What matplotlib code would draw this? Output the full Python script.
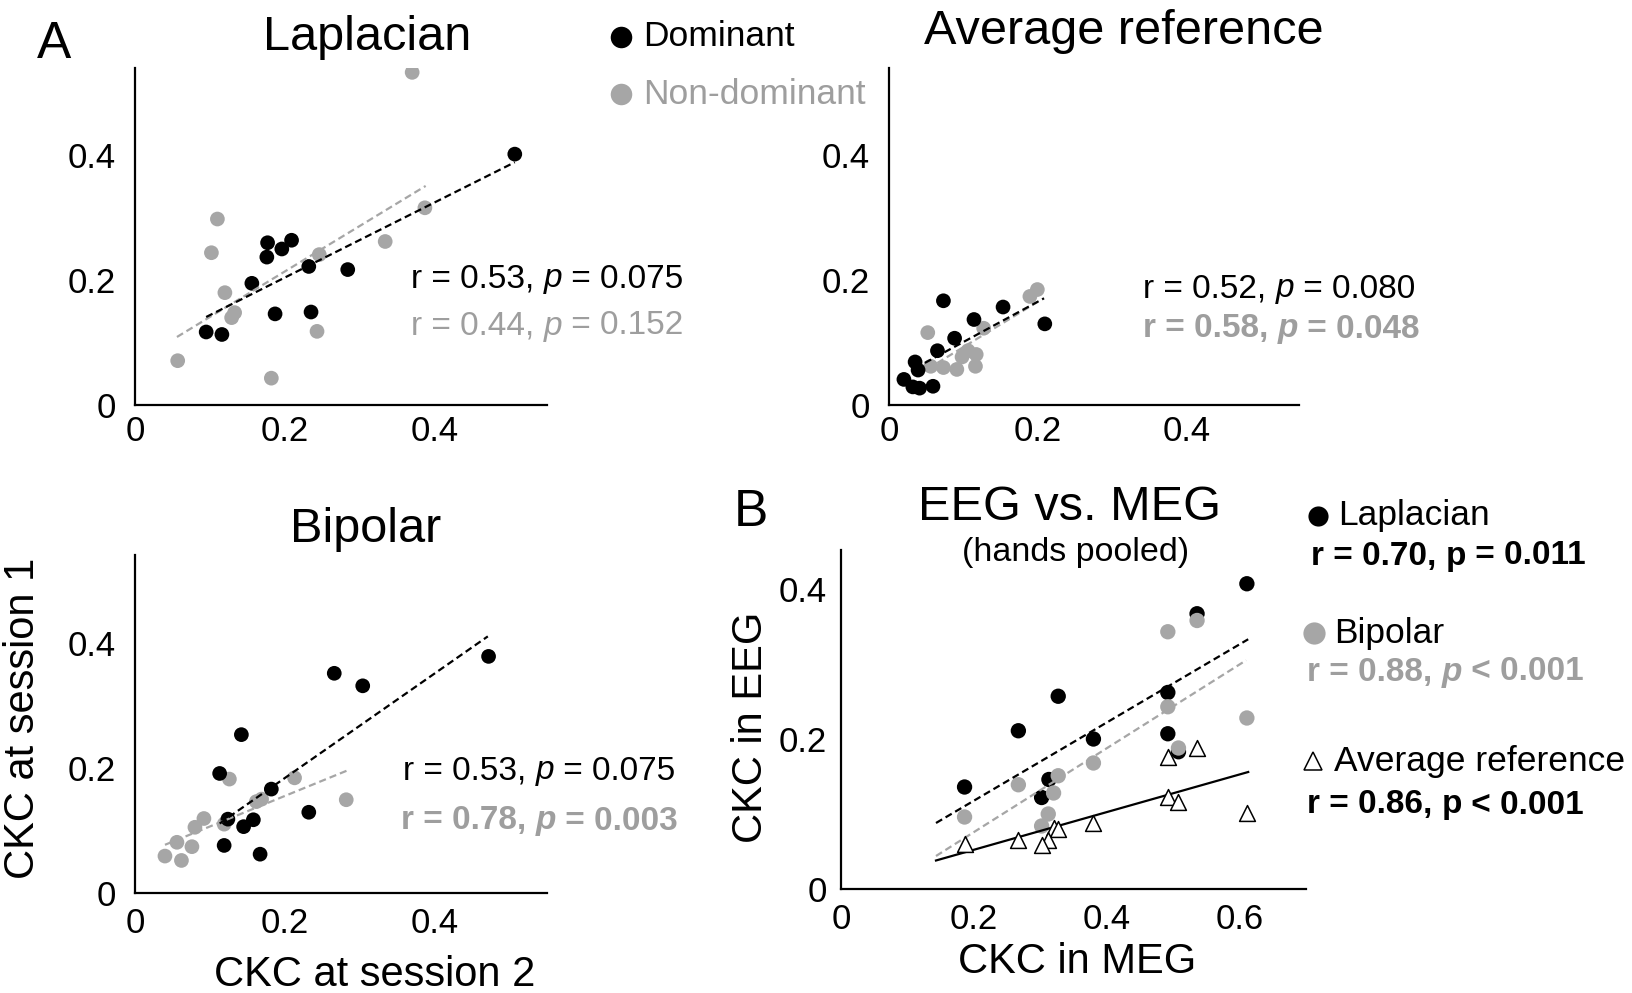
import matplotlib
matplotlib.use("Agg")
import matplotlib.pyplot as plt
from matplotlib.lines import Line2D
from matplotlib.font_manager import FontProperties

plt.rcParams['font.family'] = ['Liberation Sans', 'DejaVu Sans']

# ---------------- data ----------------
lap_dom_x = [0.507, 0.177, 0.209, 0.196, 0.176, 0.232, 0.284, 0.156, 0.187, 0.235, 0.095, 0.116]
lap_dom_y = [0.402, 0.260, 0.264, 0.250, 0.237, 0.222, 0.217, 0.195, 0.146, 0.149, 0.117, 0.113]
lap_non_x = [0.110, 0.102, 0.120, 0.133, 0.129, 0.246, 0.334, 0.387, 0.243, 0.057, 0.182, 0.370]
lap_non_y = [0.298, 0.244, 0.180, 0.148, 0.140, 0.241, 0.262, 0.316, 0.118, 0.071, 0.043, 0.533]

avg_dom_x = [0.073, 0.153, 0.114, 0.209, 0.088, 0.065, 0.035, 0.039, 0.020, 0.032, 0.041, 0.059]
avg_dom_y = [0.167, 0.157, 0.137, 0.130, 0.107, 0.087, 0.069, 0.056, 0.041, 0.029, 0.027, 0.030]
avg_non_x = [0.199, 0.189, 0.127, 0.052, 0.106, 0.117, 0.098, 0.116, 0.091, 0.073, 0.056]
avg_non_y = [0.185, 0.174, 0.123, 0.116, 0.087, 0.081, 0.077, 0.062, 0.057, 0.060, 0.062]

bip_dom_x = [0.472, 0.266, 0.304, 0.142, 0.113, 0.182, 0.124, 0.158, 0.145, 0.232, 0.119, 0.167]
bip_dom_y = [0.378, 0.351, 0.331, 0.253, 0.191, 0.166, 0.118, 0.117, 0.106, 0.129, 0.076, 0.062]
bip_non_x = [0.126, 0.213, 0.282, 0.169, 0.162, 0.092, 0.080, 0.119, 0.056, 0.076, 0.040, 0.062]
bip_non_y = [0.182, 0.184, 0.149, 0.150, 0.146, 0.119, 0.105, 0.110, 0.081, 0.074, 0.059, 0.052]

meg_lap_x = [0.611, 0.536, 0.327, 0.267, 0.492, 0.492, 0.380, 0.508, 0.186, 0.313, 0.302]
meg_lap_y = [0.407, 0.367, 0.257, 0.211, 0.262, 0.207, 0.200, 0.183, 0.136, 0.146, 0.122]
meg_bip_x = [0.536, 0.492, 0.492, 0.611, 0.508, 0.380, 0.267, 0.327, 0.320, 0.186, 0.312, 0.302]
meg_bip_y = [0.358, 0.343, 0.243, 0.228, 0.188, 0.168, 0.139, 0.151, 0.128, 0.096, 0.100, 0.084]
meg_avg_x = [0.536, 0.492, 0.492, 0.508, 0.611, 0.380, 0.320, 0.327, 0.267, 0.312, 0.302, 0.186]
meg_avg_y = [0.188, 0.176, 0.123, 0.116, 0.101, 0.088, 0.082, 0.080, 0.066, 0.065, 0.059, 0.060]

# regression lines: [x0, x1, y0, y1]
lap_dom_fit = [0.095, 0.507, 0.141, 0.389]
lap_non_fit = [0.056, 0.388, 0.109, 0.351]
avg_dom_fit = [0.035, 0.208, 0.059, 0.171]
avg_non_fit = [0.052, 0.199, 0.058, 0.165]
bip_dom_fit = [0.113, 0.471, 0.111, 0.410]
bip_non_fit = [0.040, 0.284, 0.077, 0.196]
meg_lap_fit = [0.143, 0.613, 0.088, 0.333]
meg_bip_fit = [0.143, 0.610, 0.044, 0.305]
meg_avg_fit = [0.143, 0.613, 0.038, 0.156]

ticks_a = [0, 0.2, 0.4]
ticks_a_labels = ["0", "0.2", "0.4"]
ticks_b_x = [0, 0.2, 0.4, 0.6]
ticks_b_x_labels = ["0", "0.2", "0.4", "0.6"]

# ---------------- style ----------------
W, H = 1632, 993
BLACK = '#000000'
GRAY = '#a6a6a6'
GRAYTXT = '#9e9e9e'
DASH = (0, (3.2, 1.8))

fig = plt.figure(figsize=(W / 100, H / 100), dpi=100)
renderer = fig.canvas.get_renderer()


def add_ax(l, t, r, b):
    return fig.add_axes([l / W, 1 - b / H, (r - l) / W, (b - t) / H])


def style(ax, xlim, ylim, xt, xtl, yt, ytl, ypad=14, xpad=7):
    ax.set_xlim(*xlim)
    ax.set_ylim(*ylim)
    for s in ['top', 'right']:
        ax.spines[s].set_visible(False)
    for s in ['left', 'bottom']:
        ax.spines[s].set_linewidth(1.6)
        ax.spines[s].set_color('black')
    ax.set_xticks(xt)
    ax.set_xticklabels(xtl)
    ax.set_yticks(yt)
    ax.set_yticklabels(ytl)
    ax.tick_params(axis='both', length=0, labelsize=25)
    ax.tick_params(axis='y', pad=ypad)
    ax.tick_params(axis='x', pad=xpad)
    ax.patch.set_alpha(0)


def fitline(ax, f, color, ls):
    ax.plot([f[0], f[1]], [f[2], f[3]], color=color, lw=1.6, linestyle=ls, zorder=4)


def ftxt(x, y, s, size, color='black', ha='center', weight='normal', rot=0, style_='normal'):
    return fig.text(x / W, 1 - y / H, s, fontsize=size, color=color, ha=ha, va='center',
                    fontweight=weight, rotation=rot, fontstyle=style_)


def width_px(s, size, weight, st):
    fp = FontProperties(family=['Liberation Sans', 'DejaVu Sans'], size=size, weight=weight, style=st)
    w1 = renderer.get_text_width_height_descent(s + 'x', fp, False)[0]
    w2 = renderer.get_text_width_height_descent('x', fp, False)[0]
    return w1 - w2


def rich(x, y, pieces, size, color, weight='normal'):
    cx = x
    for s, st in pieces:
        fig.text(cx / W, 1 - y / H, s, fontsize=size, color=color, ha='left', va='center',
                 fontweight=weight, fontstyle=st)
        cx += width_px(s, size, weight, st)


def stat(x, y, r, op, p, color, weight='normal', pit='italic', size=24):
    rich(x, y, [("r = %s, " % r, 'normal'), ("p", pit), (" %s %s" % (op, p), 'normal')],
         size, color, weight)


MS = 112

# ---------------- Laplacian ----------------
ax1 = add_ax(135, 68, 547, 405)
style(ax1, (0, 0.55), (0, 0.54), ticks_a, ticks_a_labels, ticks_a, ticks_a_labels)
ax1.scatter(lap_non_x, lap_non_y, s=MS, c=GRAY, edgecolors='none', zorder=2)
ax1.scatter(lap_dom_x, lap_dom_y, s=MS, c=BLACK, edgecolors='none', zorder=3)
fitline(ax1, lap_non_fit, GRAY, DASH)
fitline(ax1, lap_dom_fit, BLACK, DASH)

# ---------------- Average reference ----------------
ax2 = add_ax(889, 68, 1299, 405)
style(ax2, (0, 0.55), (0, 0.54), ticks_a, ticks_a_labels, ticks_a, ticks_a_labels)
ax2.scatter(avg_non_x, avg_non_y, s=MS, c=GRAY, edgecolors='none', zorder=2)
ax2.scatter(avg_dom_x, avg_dom_y, s=MS, c=BLACK, edgecolors='none', zorder=3)
fitline(ax2, avg_non_fit, GRAY, DASH)
fitline(ax2, avg_dom_fit, BLACK, DASH)

# ---------------- Bipolar ----------------
ax3 = add_ax(135, 555, 547, 893)
style(ax3, (0, 0.55), (0, 0.54), ticks_a, ticks_a_labels, ticks_a, ticks_a_labels, xpad=10)
ax3.scatter(bip_non_x, bip_non_y, s=MS, c=GRAY, edgecolors='none', zorder=2)
ax3.scatter(bip_dom_x, bip_dom_y, s=MS, c=BLACK, edgecolors='none', zorder=3)
fitline(ax3, bip_non_fit, GRAY, DASH)
fitline(ax3, bip_dom_fit, BLACK, DASH)

# ---------------- EEG vs MEG ----------------
ax4 = add_ax(841, 550, 1306, 889)
style(ax4, (0, 0.70), (0, 0.452), ticks_b_x, ticks_b_x_labels, ticks_a, ticks_a_labels, ypad=10, xpad=10)
ax4.scatter(meg_lap_x, meg_lap_y, s=MS + 10, c=BLACK, edgecolors='none', zorder=2)
ax4.scatter(meg_bip_x, meg_bip_y, s=MS + 10, c=GRAY, edgecolors='none', zorder=3)
ax4.scatter(meg_avg_x, meg_avg_y, s=130, marker='^', facecolors='white', edgecolors='black',
            linewidths=1.1, zorder=5)
fitline(ax4, meg_lap_fit, BLACK, DASH)
fitline(ax4, meg_bip_fit, GRAY, DASH)
fitline(ax4, meg_avg_fit, BLACK, '-')

# ---------------- titles and labels ----------------
ftxt(54, 45, "A", 37)
ftxt(751, 512, "B", 37)
ftxt(367, 37, "Laplacian", 35)
ftxt(1124, 31, "Average reference", 35)
ftxt(366, 530, "Bipolar", 35)
ftxt(1070, 507, "EEG vs. MEG", 35)
ftxt(1076, 553, "(hands pooled)", 24.5)

ftxt(23, 718, "CKC at session 1", 30, rot=90)
ftxt(375, 975, "CKC at session 2", 30)
ftxt(751, 727, "CKC in EEG", 30, rot=90)
ftxt(1077, 962, "CKC in MEG", 30)

# top legend
fig.add_artist(Line2D([621 / W], [1 - 37 / H], marker='o', ms=15.5, color=BLACK, mec='none',
                      transform=fig.transFigure))
fig.add_artist(Line2D([621 / W], [1 - 94 / H], marker='o', ms=15.5, color=GRAY, mec='none',
                      transform=fig.transFigure))
ftxt(643, 37, "Dominant", 25.5, ha='left')
ftxt(643, 94, "Non-dominant", 25.5, color=GRAYTXT, ha='left')

# stats panel A
stat(411, 279, "0.53", "=", "0.075", BLACK)
stat(411, 326, "0.44", "=", "0.152", GRAYTXT)
stat(1143, 289, "0.52", "=", "0.080", BLACK)
stat(1143, 329, "0.58", "=", "0.048", GRAYTXT, weight='bold')
stat(403, 771, "0.53", "=", "0.075", BLACK)
stat(401, 821, "0.78", "=", "0.003", GRAYTXT, weight='bold')

# panel B legend
fig.add_artist(Line2D([1318 / W], [1 - 516 / H], marker='o', ms=14.5, color=BLACK, mec='none',
                      transform=fig.transFigure))
ftxt(1338, 516, "Laplacian", 25.5, ha='left')
fig.add_artist(Line2D([1314 / W], [1 - 633 / H], marker='o', ms=16, color=GRAY, mec='none',
                      transform=fig.transFigure))
ftxt(1334, 633, "Bipolar", 25.5, ha='left')
fig.add_artist(Line2D([1313 / W], [1 - 761 / H], marker='^', ms=12.5, mfc='white', mec='black',
                      mew=1.1, transform=fig.transFigure))
ftxt(1334, 761, "Average reference", 25.5, ha='left')
stat(1311, 556, "0.70", "=", "0.011", BLACK, weight='bold', pit='normal')
stat(1307, 672, "0.88", "<", "0.001", GRAYTXT, weight='bold')
stat(1307, 805, "0.86", "<", "0.001", BLACK, weight='bold', pit='normal')

fig.savefig("out.png", dpi=100)
